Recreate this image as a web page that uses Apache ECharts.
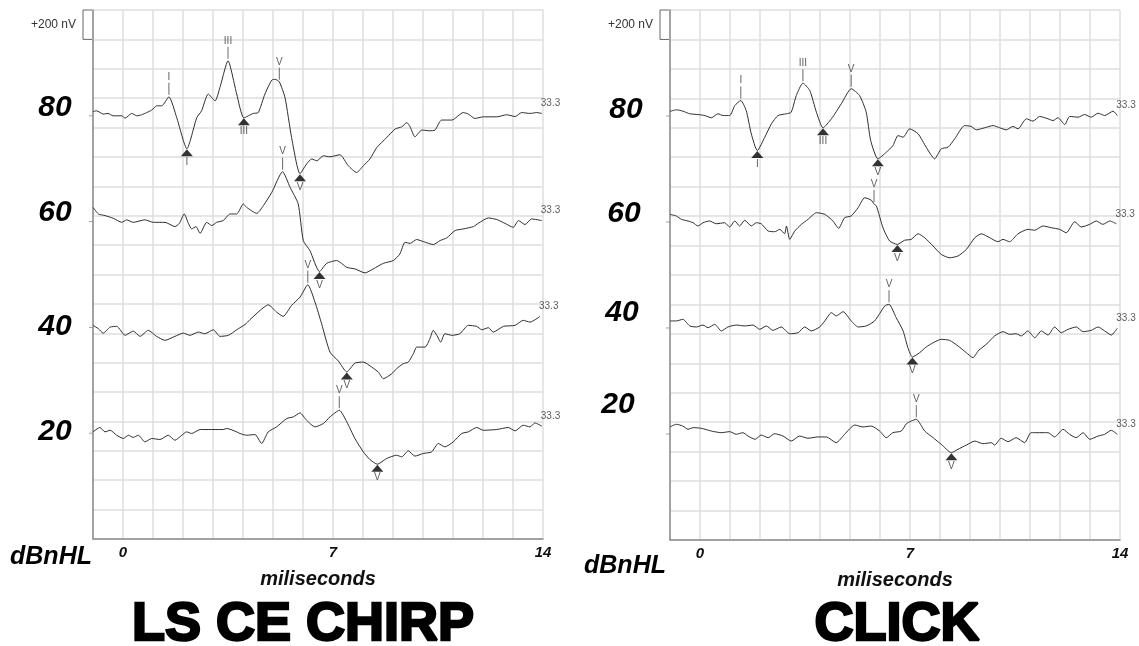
<!DOCTYPE html>
<html><head><meta charset="utf-8">
<script src="https://cdn.jsdelivr.net/npm/echarts@6/dist/echarts.min.js"></script>
<style>html,body{margin:0;padding:0;background:#fff}#c{width:1139px;height:646px}</style>
</head><body><div id="c"></div>
<script>
// ---- data ----
const levels = ['80', '60', '40', '20'];          // dBnHL
const levelOffsets = [2880, 2160, 1440, 720];     // display offset of each sweep (nV)
const sweepLabels = ['33.3', '33.3', '33.3', '33.3'];
const panelTitles = ['LS CE CHIRP', 'CLICK'];
const xTickLabels = [0, 7, 14];
const scaleBar = 200; // nV
const scaleLabel = '+200 nV';

// [ms, nV] traces, LS CE Chirp
const chirp80 = [[-1,29],[-0.88,34],[-0.66,12],[-0.5,16],[-0.33,0],[-0.04,0],[0.07,-16],[0.29,16],[0.46,0],[0.62,7],[0.79,22],[0.96,39],[1.12,68],[1.29,68],[1.53,129],[1.79,-12],[2.13,-224],[2.46,-12],[2.62,34],[2.84,148],[3.07,102],[3.23,192],[3.5,374],[3.79,148],[4.03,-14],[4.34,16],[4.51,22],[4.73,148],[4.96,243],[5.07,248],[5.21,231],[5.4,124],[5.62,-148],[5.9,-394],[6.12,-328],[6.29,-294],[6.46,-306],[6.68,-272],[6.9,-279],[7.23,-265],[7.51,-340],[7.79,-386],[8.01,-340],[8.23,-294],[8.46,-216],[8.79,-148],[9.07,-90],[9.29,-75],[9.46,-46],[9.57,-75],[9.73,-143],[9.96,-97],[10.23,-102],[10.4,-97],[10.62,-29],[10.96,-29],[11.34,22],[11.51,12],[11.73,-18],[12.01,-7],[12.46,-7],[12.79,7],[13.07,-5],[13.29,22],[13.57,16],[13.79,22],[13.96,16]];
const chirp60 = [[-1,97],[-0.82,52],[-0.6,41],[-0.32,22],[-0.04,-5],[0.12,12],[0.34,-5],[0.73,12],[1.01,-5],[1.4,-5],[1.73,-34],[1.88,-12],[2.04,52],[2.18,-12],[2.29,-50],[2.43,-34],[2.57,-80],[2.79,-5],[2.96,-27],[3.12,-5],[3.34,7],[3.57,52],[3.79,52],[4.01,120],[4.12,97],[4.46,56],[4.68,109],[4.96,199],[5.32,340],[5.57,233],[5.84,120],[6.01,-129],[6.23,-197],[6.55,-340],[6.79,-284],[7.12,-265],[7.46,-311],[7.73,-322],[8.07,-349],[8.34,-322],[8.68,-284],[9.01,-265],[9.23,-220],[9.4,-141],[9.57,-148],[9.79,-122],[10.01,-136],[10.34,-156],[10.57,-129],[10.79,-111],[11.07,-61],[11.34,-50],[11.68,-34],[11.84,-12],[12.18,25],[12.46,14],[12.73,-12],[13.01,-39],[13.18,7],[13.4,-20],[13.62,18],[13.96,7]];
const chirp40 = [[-1,14],[-0.82,-9],[-0.66,-39],[-0.43,2],[-0.21,7],[0.07,-54],[0.34,-25],[0.57,-61],[0.84,-20],[1.12,-61],[1.4,-88],[1.73,-61],[2.01,-39],[2.23,-54],[2.51,-32],[2.73,-43],[3.01,-16],[3.23,-61],[3.51,-54],[3.79,-16],[4.07,20],[4.23,52],[4.57,116],[4.84,154],[5.12,104],[5.34,75],[5.62,150],[5.9,206],[6.16,290],[6.4,172],[6.62,25],[6.9,-168],[7.18,-229],[7.46,-303],[7.73,-243],[8.01,-236],[8.29,-270],[8.51,-304],[8.68,-349],[8.96,-315],[9.12,-281],[9.34,-247],[9.51,-236],[9.68,-179],[9.79,-134],[10.07,-134],[10.23,-77],[10.34,-20],[10.46,-54],[10.59,-100],[10.73,-43],[10.96,-54],[11.23,-43],[11.51,14],[11.79,7],[11.96,-16],[12.18,-2],[12.34,-32],[12.68,7],[13.07,14],[13.34,48],[13.57,36],[13.9,75]];
const chirp20 = [[-1,9],[-0.77,39],[-0.6,9],[-0.43,20],[-0.21,-14],[0.01,-36],[0.18,-14],[0.34,-29],[0.51,-14],[0.73,-59],[0.96,-36],[1.23,-43],[1.51,-14],[1.73,-48],[1.96,-14],[2.12,9],[2.29,-2],[2.57,25],[3.34,25],[3.46,32],[3.79,9],[3.9,-2],[4.12,-14],[4.4,-9],[4.62,-70],[4.84,9],[5.12,43],[5.46,100],[5.68,111],[5.9,138],[6.12,88],[6.4,43],[6.68,66],[6.9,111],[7.21,156],[7.46,77],[7.73,-36],[8.01,-127],[8.23,-179],[8.48,-211],[8.79,-172],[9.12,-150],[9.29,-161],[9.51,-120],[9.73,-156],[10.01,-138],[10.29,-127],[10.51,-70],[10.73,-93],[11.01,-59],[11.29,-2],[11.51,9],[11.79,39],[12.01,20],[12.46,25],[12.84,39],[13.07,16],[13.34,54],[13.57,43],[13.73,70],[13.96,48]];

// [ms, nV] traces, Click
const click80 = [[-1,31],[-0.79,42],[-0.57,33],[-0.34,15],[-0.07,10],[0.16,3],[0.38,-12],[0.6,15],[0.77,3],[0.99,3],[1.16,71],[1.36,105],[1.54,37],[1.71,-121],[1.91,-235],[2.16,-144],[2.38,-53],[2.6,3],[2.88,15],[3.04,26],[3.21,139],[3.43,223],[3.66,173],[3.88,26],[4.1,-80],[4.38,-19],[4.71,83],[5.04,185],[5.32,139],[5.54,26],[5.69,-167],[5.93,-291],[6.21,-246],[6.43,-201],[6.6,-133],[6.77,-144],[6.99,-87],[7.27,-121],[7.54,-212],[7.82,-291],[8.04,-223],[8.27,-212],[8.49,-155],[8.82,-65],[9.04,-71],[9.21,-94],[9.49,-80],[9.77,-65],[9.99,-80],[10.21,-94],[10.43,-71],[10.6,-87],[10.88,-19],[11.1,-35],[11.32,-3],[11.6,-19],[11.77,-31],[11.93,-12],[12.16,-58],[12.32,-3],[12.6,-8],[12.82,10],[13.04,-8],[13.27,19],[13.49,3],[13.77,33],[13.91,3]];
const click60 = [[-1,52],[-0.79,41],[-0.62,18],[-0.4,7],[-0.23,-5],[-0.07,-27],[0.1,-5],[0.32,7],[0.54,-12],[0.82,-5],[0.99,-34],[1.16,7],[1.32,-27],[1.49,12],[1.71,-27],[1.88,-5],[2.04,-12],[2.27,-61],[2.49,-66],[2.66,-50],[2.82,-80],[2.88,-27],[2.99,-118],[3.16,-61],[3.38,-16],[3.6,18],[3.88,63],[4.16,52],[4.43,7],[4.62,-43],[4.82,29],[5.04,41],[5.27,97],[5.49,165],[5.71,148],[5.8,122],[5.88,109],[6.1,-39],[6.32,-129],[6.58,-152],[6.82,-124],[7.04,-118],[7.27,-80],[7.49,-107],[7.77,-163],[8.04,-220],[8.32,-243],[8.6,-231],[8.88,-186],[9.16,-107],[9.38,-80],[9.66,-107],[9.93,-134],[10.1,-118],[10.32,-134],[10.6,-80],[10.93,-50],[11.16,-56],[11.43,-27],[11.71,-39],[11.99,-50],[12.21,-73],[12.49,2],[12.71,-34],[12.99,-16],[13.21,7],[13.43,-16],[13.66,7],[13.88,-12]];
const click40 = [[-1,48],[-0.79,48],[-0.57,59],[-0.34,14],[-0.12,7],[0.1,20],[0.27,2],[0.49,25],[0.71,-20],[0.93,7],[1.21,20],[1.49,14],[1.77,20],[1.99,-9],[2.21,14],[2.43,-16],[2.71,7],[2.99,-39],[3.27,-32],[3.49,7],[3.71,-20],[3.99,7],[4.16,48],[4.38,104],[4.54,82],[4.77,111],[5.04,48],[5.27,7],[5.54,14],[5.82,48],[6.16,150],[6.3,161],[6.54,70],[6.77,-20],[6.93,-134],[7.08,-197],[7.32,-168],[7.54,-129],[7.77,-100],[8.04,-77],[8.32,-84],[8.6,-122],[8.88,-168],[9.1,-202],[9.27,-156],[9.43,-129],[9.6,-100],[9.82,-54],[10.1,-25],[10.32,-43],[10.54,-39],[10.71,-54],[10.93,-20],[11.16,-66],[11.38,-20],[11.6,-48],[11.82,7],[12.04,-32],[12.27,-9],[12.54,7],[12.77,-25],[13.04,-16],[13.27,7],[13.49,-20],[13.71,-48],[13.91,-2]];
const click20 = [[-1,48],[-0.79,66],[-0.57,54],[-0.4,32],[-0.23,43],[0.04,39],[0.38,20],[0.71,9],[0.99,16],[1.21,-2],[1.43,9],[1.6,-14],[1.84,-36],[2.04,-7],[2.27,-25],[2.49,2],[2.77,-14],[3.04,-48],[3.32,-14],[3.6,-29],[3.93,-20],[4.21,-20],[4.54,-59],[4.82,-2],[5.16,61],[5.43,48],[5.71,54],[5.99,20],[6.21,-25],[6.43,9],[6.71,20],[6.88,70],[7.04,88],[7.21,100],[7.49,20],[7.77,-25],[8.04,-70],[8.38,-127],[8.6,-104],[8.88,-75],[9.16,-48],[9.43,-66],[9.71,-59],[9.82,-75],[10.04,-29],[10.27,-52],[10.54,-25],[10.82,-59],[11.04,9],[11.6,9],[11.82,-20],[12.1,32],[12.32,-2],[12.54,-25],[12.77,9],[12.99,-36],[13.27,-14],[13.49,-2],[13.71,25],[13.91,-2]];

// wave markers: [sweep index, latency ms, wave]
const chirpPeaks   = [[0,1.53,'I'],[0,3.5,'III'],[0,5.21,'V'],[1,5.32,'V'],[2,6.16,'V'],[3,7.21,'V']];
const chirpTroughs = [[0,2.13,'I'],[0,4.03,'III'],[0,5.9,'V'],[1,6.55,'V'],[2,7.46,'V'],[3,8.48,'V']];
const clickPeaks   = [[0,1.36,'I'],[0,3.43,'III'],[0,5.04,'V'],[1,5.8,'V'],[2,6.3,'V'],[3,7.21,'V']];
const clickTroughs = [[0,1.91,'I'],[0,4.1,'III'],[0,5.93,'V'],[1,6.58,'V'],[2,7.08,'V'],[3,8.38,'V']];

// ---- chart ----
const chirpTraces = [chirp80, chirp60, chirp40, chirp20];
const clickTraces = [click80, click60, click40, click20];
const FONT = 'Liberation Sans, Arial, sans-serif';

function shifted(tr, k) { return tr.map(p => [p[0], p[1] + levelOffsets[k]]); }
function valueAt(tr, t) {
  for (let i = 1; i < tr.length; i++) {
    if (tr[i][0] >= t) {
      const a = tr[i - 1], b = tr[i];
      const f = (t - a[0]) / (b[0] - a[0]);
      return a[1] + f * (b[1] - a[1]);
    }
  }
  return tr[tr.length - 1][1];
}

function panelSeries(traces, peaks, troughs, gi) {
  const s = [];
  traces.forEach((tr, k) => s.push({
    type: 'line', xAxisIndex: gi, yAxisIndex: gi, data: shifted(tr, k),
    showSymbol: false, smooth: 0.2, silent: true, z: 3,
    lineStyle: { color: '#2e2e2e', width: 1 }
  }));
  s.push({
    type: 'scatter', xAxisIndex: gi, yAxisIndex: gi, silent: true, z: 4, clip: false,
    symbol: 'rect', symbolSize: [1, 12], symbolOffset: [0, -8],
    itemStyle: { color: '#444' },
    label: { show: true, position: 'top', distance: 1, color: '#333', fontSize: 10, fontFamily: FONT },
    data: peaks.map(m => ({ value: [m[1], valueAt(traces[m[0]], m[1]) + levelOffsets[m[0]]], label: { formatter: m[2] } }))
  });
  s.push({
    type: 'scatter', xAxisIndex: gi, yAxisIndex: gi, silent: true, z: 4, clip: false,
    symbol: 'triangle', symbolSize: [12, 7], symbolOffset: [0, 4],
    itemStyle: { color: '#000' },
    label: { show: true, position: 'bottom', distance: 1, color: '#333', fontSize: 10, fontFamily: FONT },
    data: troughs.map(m => ({ value: [m[1], valueAt(traces[m[0]], m[1]) + levelOffsets[m[0]]], label: { formatter: m[2] } }))
  });
  s.push({
    type: 'scatter', xAxisIndex: gi, yAxisIndex: gi, silent: true, z: 4, clip: false,
    symbolSize: 0,
    label: { show: true, position: [-1, -15], color: '#333', fontSize: 10, fontFamily: FONT },
    data: traces.map((tr, k) => ({ value: [tr[tr.length - 1][0], tr[tr.length - 1][1] + levelOffsets[k]], label: { formatter: sweepLabels[k] } }))
  });
  s.push({
    type: 'scatter', xAxisIndex: gi, yAxisIndex: gi, silent: true, z: 4, clip: false,
    symbol: 'rect', symbolSize: [4, 1], symbolOffset: [-2, 0], itemStyle: { color: '#888' },
    data: levelOffsets.map(v => [-1, v])
  });
  return s;
}

function xAxisFor(gi) {
  return {
    type: 'value', gridIndex: gi, min: -1, max: 14, interval: 1,
    axisLine: { show: true, onZero: false, lineStyle: { color: '#8c8c8c', width: 1.5 } },
    axisTick: { show: false },
    splitLine: { show: true, lineStyle: { color: '#dedede', width: 1.5 } },
    axisLabel: {
      margin: 6, color: '#111', fontSize: 15, fontWeight: 'bold', fontStyle: 'italic', fontFamily: FONT,
      formatter: v => xTickLabels.includes(v) ? String(v) : ''
    },
    name: 'miliseconds', nameLocation: 'middle', nameGap: 30,
    nameTextStyle: { color: '#111', fontSize: 20, fontWeight: 'bold', fontStyle: 'italic', fontFamily: FONT }
  };
}
function yAxisFor(gi) {
  return {
    type: 'value', gridIndex: gi, min: 0, max: 3600, interval: scaleBar,
    axisLine: { show: true, onZero: false, lineStyle: { color: '#8c8c8c', width: 1.5 } },
    axisTick: { show: false }, axisLabel: { show: false },
    splitLine: { show: true, lineStyle: { color: '#dedede', width: 1.5 } }
  };
}

const chart = echarts.init(document.getElementById('c'), null, { renderer: 'canvas' });
chart.setOption({
  backgroundColor: '#fff',
  animation: false,
  grid: [
    { left: 93, top: 10, width: 450, height: 529 },
    { left: 670, top: 10, width: 450, height: 530 }
  ],
  xAxis: [xAxisFor(0), xAxisFor(1)],
  yAxis: [yAxisFor(0), yAxisFor(1)],
  series: [].concat(
    panelSeries(chirpTraces, chirpPeaks, chirpTroughs, 0),
    panelSeries(clickTraces, clickPeaks, clickTroughs, 1)
  )
});

// annotations (scale bar, level labels, titles)
const g = [];
const levelPos = [
  [[55, 108], [55, 213], [55, 327], [55, 432]],
  [[626, 110], [624, 214], [622, 313], [618, 405]]
];
const dbPos = [[51, 557], [625, 566]];
const titlePos = [[303, 625], [897, 625]];
[0, 1].forEach(gi => {
  const top = chart.convertToPixel({ gridIndex: gi }, [-1, 3600]);
  const bot = chart.convertToPixel({ gridIndex: gi }, [-1, 3600 - scaleBar]);
  const x = top[0] - 1, xl = top[0] - 10;
  g.push({ type: 'polyline', shape: { points: [[x, top[1]], [xl, top[1]], [xl, bot[1]], [x, bot[1]]] }, style: { stroke: '#666', lineWidth: 1, fill: null } });
  g.push({ type: 'text', x: xl - 7, y: (top[1] + bot[1]) / 2, style: { text: scaleLabel, font: '12px ' + FONT, fill: '#333', align: 'right', verticalAlign: 'middle' } });
  levels.forEach((lv, k) => g.push({ type: 'text', x: levelPos[gi][k][0], y: levelPos[gi][k][1], style: { text: lv, font: 'italic bold 30px ' + FONT, fill: '#000', align: 'center', verticalAlign: 'middle' } }));
  g.push({ type: 'text', x: dbPos[gi][0], y: dbPos[gi][1], style: { text: 'dBnHL', font: 'italic bold 25px ' + FONT, fill: '#000', align: 'center', verticalAlign: 'middle' } });
  g.push({ type: 'text', x: titlePos[gi][0], y: titlePos[gi][1], style: { text: panelTitles[gi], font: 'bold 54px ' + FONT, fill: '#000', stroke: '#000', lineWidth: 2.5, align: 'center', verticalAlign: 'middle' } });
});
chart.setOption({ graphic: g });
</script>
</body></html>
